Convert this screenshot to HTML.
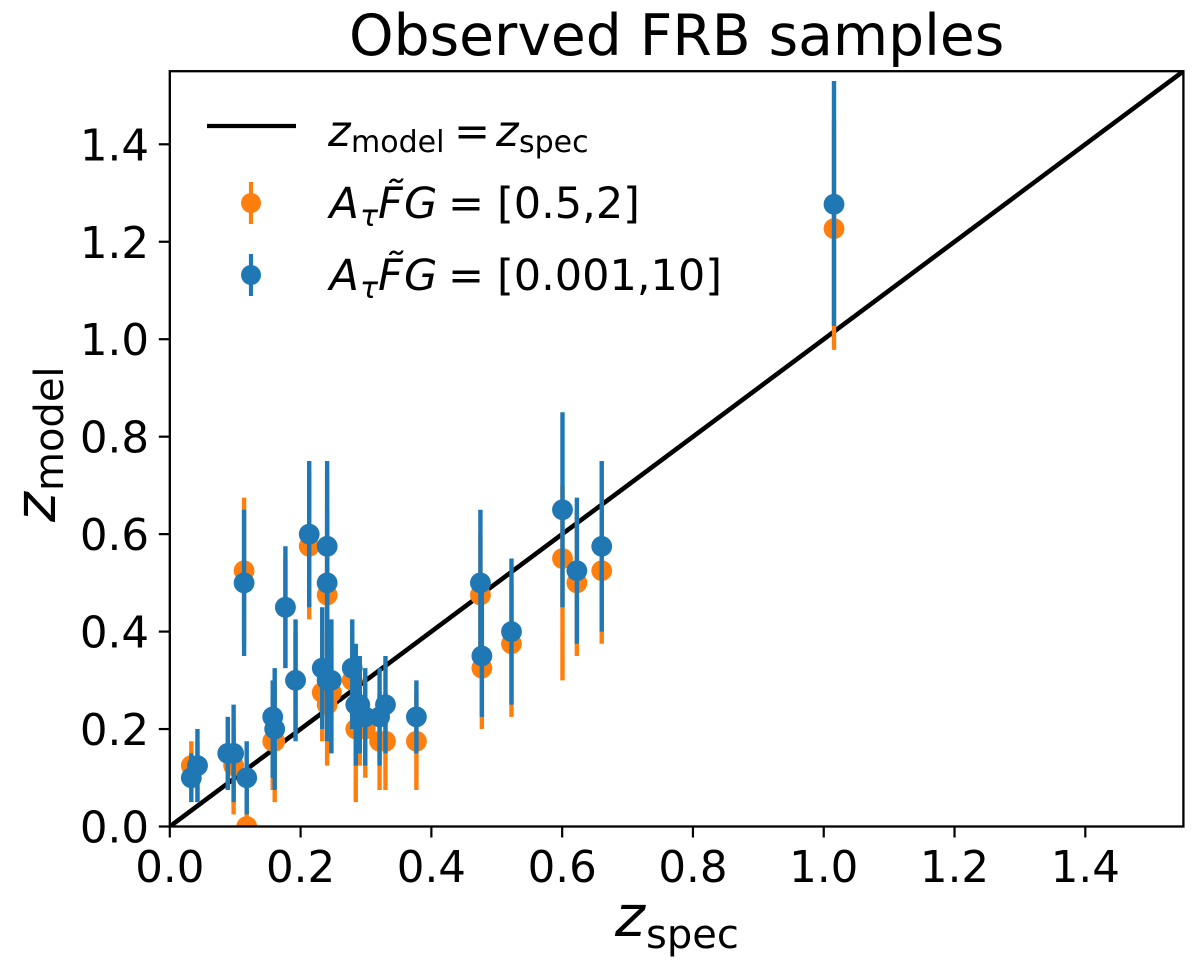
<!DOCTYPE html>
<html>
<head>
<meta charset="utf-8">
<title>Observed FRB samples</title>
<style>
html,body{margin:0;padding:0;background:#fff;width:1200px;height:971px;overflow:hidden}
svg{display:block}
text{font-family:"DejaVu Sans","Liberation Sans",sans-serif;fill:#000}
.i{font-style:italic}
</style>
</head>
<body>
<svg id="chart" width="1200" height="971" viewBox="0 0 1200 971" xmlns="http://www.w3.org/2000/svg">
  <defs><clipPath id="plot-clip"><rect x="169.8" y="71.2" width="1013.6" height="755.3"/></clipPath></defs>
  <rect x="169.8" y="71.2" width="1013.6" height="755.3" fill="#fff"/>
  <g id="marks" clip-path="url(#plot-clip)"></g>
  <g id="spines"></g>
  <g id="ticks"></g>

  <text x="349" y="55" font-size="56.7">Observed FRB samples</text>

  <g>
    <text class="i" x="615" y="936" font-size="57">z</text>
    <text x="646" y="948" font-size="40">spec</text>
  </g>
  <g transform="translate(55,522) rotate(-90)">
    <text class="i" x="0" y="0" font-size="57">z</text>
    <text x="31" y="8" font-size="40">model</text>
  </g>

  <g>
    <g>
      <line x1="207" y1="126" x2="296" y2="126" stroke="#000" stroke-width="4.2"/>
      <text class="i" x="328" y="146" font-size="43">z</text>
      <text x="351" y="152" font-size="30">model</text>
      <text x="454" y="146" font-size="43">=</text>
      <text class="i" x="496" y="146" font-size="43">z</text>
      <text x="519" y="152" font-size="30">spec</text>
    </g>
    <g>
      <line x1="251" y1="182" x2="251" y2="224" stroke="#ff7f0e" stroke-width="4.2"/>
      <circle cx="251" cy="203" r="10" fill="#ff7f0e"/>
      <text class="i" x="329.5" y="218" font-size="43">A</text>
      <text class="i" x="360" y="226" font-size="30">τ</text>
      <text class="i" x="378" y="218" font-size="43">F&#771;</text>
      <text class="i" x="404" y="218" font-size="43">G</text>
      <text x="448" y="218" font-size="43">=</text>
      <text x="497" y="218" font-size="43">[0.5,2]</text>
    </g>
    <g>
      <line x1="251" y1="254" x2="251" y2="296" stroke="#1f77b4" stroke-width="4.2"/>
      <circle cx="251" cy="275" r="10" fill="#1f77b4"/>
      <text class="i" x="329.5" y="290" font-size="43">A</text>
      <text class="i" x="360" y="298" font-size="30">τ</text>
      <text class="i" x="378" y="290" font-size="43">F&#771;</text>
      <text class="i" x="404" y="290" font-size="43">G</text>
      <text x="448" y="290" font-size="43">=</text>
      <text x="497" y="290" font-size="43">[0.001,10]</text>
    </g>
  </g>
</svg>
<script>
const zSpec       = [0.0329,0.0423,0.0887,0.0976,0.1176,0.1136,0.1768,0.1923,0.1574,0.1604,0.2132,0.2406,0.2406,0.2331,0.2406,0.2471,0.279,0.2844,0.2905,0.2989,0.3208,0.3298,0.3771,0.475,0.4772,0.5225,0.6005,0.6225,0.6605,1.0157];
const orangeValue = [0.125,0.125,0.15,0.125,0,0.525,0.45,0.30,0.175,0.175,0.575,0.575,0.475,0.275,0.25,0.275,0.30,0.20,0.20,0.20,0.175,0.175,0.175,0.475,0.325,0.375,0.55,0.50,0.525,1.227];
const orangeLower = [0.075,0.05,0.075,0.025,0,0.375,0.325,0.20,0.075,0.05,0.425,0.45,0.35,0.175,0.125,0.15,0.20,0.05,0.125,0.10,0.075,0.075,0.075,0.35,0.20,0.225,0.30,0.35,0.375,0.978];
const orangeUpper = [0.175,0.175,0.225,0.20,0.075,0.675,0.55,0.40,0.275,0.30,0.725,0.725,0.60,0.40,0.35,0.375,0.40,0.35,0.30,0.30,0.275,0.275,0.275,0.60,0.45,0.50,0.70,0.65,0.675,1.45];
const blueValue   = [0.10,0.125,0.15,0.15,0.10,0.50,0.45,0.30,0.225,0.20,0.60,0.575,0.50,0.325,0.30,0.30,0.325,0.25,0.25,0.225,0.225,0.25,0.225,0.50,0.35,0.40,0.65,0.525,0.575,1.277];
const blueLower   = [0.05,0.05,0.075,0.05,0.025,0.35,0.325,0.175,0.10,0.075,0.45,0.425,0.35,0.20,0.175,0.15,0.20,0.125,0.15,0.125,0.125,0.15,0.15,0.35,0.225,0.25,0.45,0.375,0.40,1.027];
const blueUpper   = [0.15,0.20,0.225,0.25,0.175,0.65,0.575,0.425,0.30,0.325,0.75,0.75,0.65,0.45,0.425,0.425,0.425,0.375,0.35,0.325,0.325,0.35,0.30,0.65,0.50,0.55,0.85,0.675,0.75,1.53];
const xTickLabels = ["0.0","0.2","0.4","0.6","0.8","1.0","1.2","1.4"];
const yTickLabels = ["0.0","0.2","0.4","0.6","0.8","1.0","1.2","1.4"];
const axisLimits  = [0, 1.55];

const NS = "http://www.w3.org/2000/svg";
const plotLeft = 169.8, plotRight = 1183.4, plotTop = 71.2, plotBottom = 826.5;
function xScale(v){ return plotLeft + (v - axisLimits[0]) / (axisLimits[1] - axisLimits[0]) * (plotRight - plotLeft); }
function yScale(v){ return plotBottom - (v - axisLimits[0]) / (axisLimits[1] - axisLimits[0]) * (plotBottom - plotTop); }
function make(tag, attrs, parent){
  const el = document.createElementNS(NS, tag);
  for (const k in attrs) el.setAttribute(k, attrs[k]);
  parent.appendChild(el);
  return el;
}
const marks = document.getElementById("marks");
const spines = document.getElementById("spines");
const ticks = document.getElementById("ticks");

const identity = make("line", {x1:xScale(axisLimits[0]), y1:yScale(axisLimits[0]), x2:xScale(axisLimits[1]), y2:yScale(axisLimits[1]), stroke:"#000", "stroke-width":4.6}, marks);



function drawSeries(values, lower, upper, color, label){
  const bars = make("g", {}, marks);
  
  
  zSpec.forEach(function(z, i){
    const bar = make("line", {x1:xScale(z), x2:xScale(z), y1:yScale(lower[i]), y2:yScale(upper[i]), stroke:color, "stroke-width":4.4}, bars);
    
    
  });
  const points = make("g", {}, marks);
  
  
  zSpec.forEach(function(z, i){
    const dot = make("circle", {cx:xScale(z), cy:yScale(values[i]), r:10.4, fill:color}, points);
    
    
  });
}
drawSeries(orangeValue, orangeLower, orangeUpper, "#ff7f0e", "narrow-prior");
drawSeries(blueValue, blueLower, blueUpper, "#1f77b4", "wide-prior");

const frame = make("rect", {x:plotLeft, y:plotTop, width:plotRight-plotLeft, height:plotBottom-plotTop, fill:"none", stroke:"#000", "stroke-width":2.3}, spines);



xTickLabels.forEach(function(t){
  const px = xScale(parseFloat(t));
  const mark = make("line", {x1:px, x2:px, y1:plotBottom, y2:plotBottom+11, stroke:"#000", "stroke-width":2.2}, ticks);
  
  
  const lab = make("text", {x:px, y:882, "font-size":43.5, "text-anchor":"middle"}, ticks);
  
  
  lab.textContent = t;
});
yTickLabels.forEach(function(t){
  const py = yScale(parseFloat(t));
  const mark = make("line", {x1:plotLeft-11, x2:plotLeft, y1:py, y2:py, stroke:"#000", "stroke-width":2.2}, ticks);
  
  
  const lab = make("text", {x:149, y:py+16, "font-size":43.5, "text-anchor":"end"}, ticks);
  
  
  lab.textContent = t;
});
</script>
</body>
</html>
